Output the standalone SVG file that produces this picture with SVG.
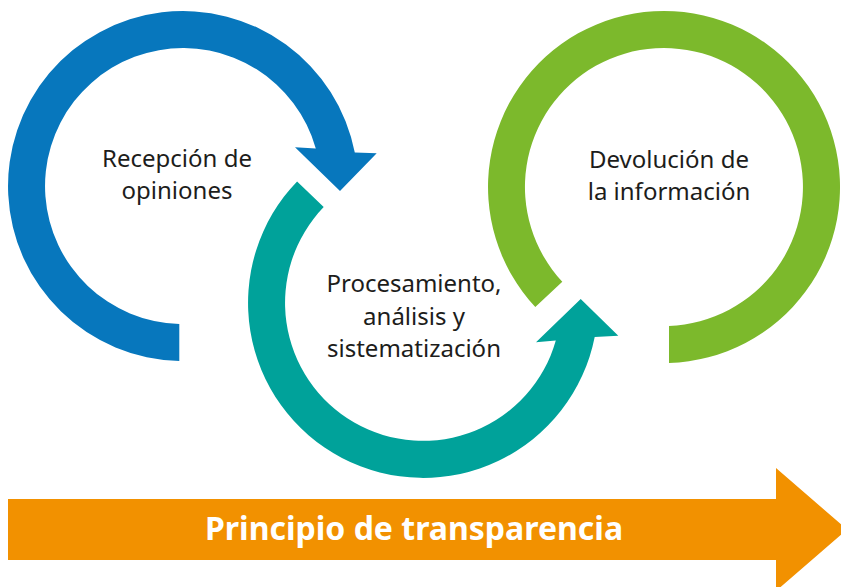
<svg xmlns="http://www.w3.org/2000/svg" width="841" height="587" viewBox="0 0 841 587">
<style>
.lbl{font-family:"Noto Sans","Liberation Sans",sans-serif;font-size:24px;fill:#1d1d1b;text-anchor:middle}
.big{font-family:"Noto Sans","Liberation Sans",sans-serif;font-size:32px;font-weight:bold;fill:#ffffff;text-anchor:middle}
.blue{fill:#0777bd}
.teal{fill:#00a29a}
.green{fill:#7cb92c}
.orange{fill:#f29100}
</style>
<rect width="841" height="587" fill="#ffffff"/>
<g id="recepcion">
<path class="blue" d="M179.3,361 A175,175 0 1 1 354.8,152.6 L376.7,153.3 L340,191 L295,147.3 L315.8,148.4 A138,138 0 1 0 179.3,324 Z"/>
<text class="lbl" x="177" y="167">Recepción de</text>
<text class="lbl" x="177" y="199">opiniones</text>
</g>
<g id="procesamiento">
<path class="teal" d="M297.1,181.4 A175,175 0 1 0 594.7,337 L618.3,335.7 L580.7,299 L536,342.3 L555.8,340.6 A138,138 0 1 1 323.7,207.1 Z"/>
<text class="lbl" x="414" y="292">Procesamiento,</text>
<text class="lbl" x="414" y="325">análisis y</text>
<text class="lbl" x="414" y="357">sistematización</text>
</g>
<g id="devolucion">
<path class="green" d="M535.3,307 A176,176 0 1 1 669,362.9 L669,325.9 A139,139 0 1 0 562.3,281.8 Z"/>
<text class="lbl" x="669" y="168">Devolución de</text>
<text class="lbl" x="669" y="200">la información</text>
</g>
<g id="principio">
<path class="orange" d="M8,499 H776 V468 L847,529.5 L776,591 V560 H8 Z"/>
<text class="big" x="414" y="540">Principio de transparencia</text>
</g>
<g id="connectors"></g>
</svg>
